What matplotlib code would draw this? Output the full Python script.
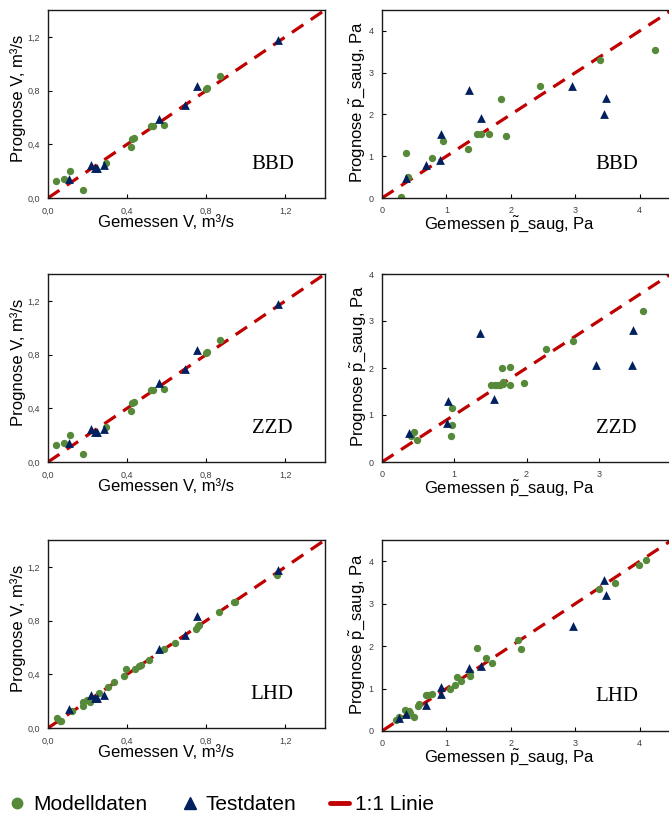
import matplotlib
matplotlib.use("Agg")
import matplotlib.pyplot as plt
from matplotlib.lines import Line2D
from matplotlib.ticker import FuncFormatter

plt.rcParams['font.family'] = ['Liberation Sans', 'DejaVu Sans']
plt.rcParams['mathtext.fontset'] = 'custom'
plt.rcParams['mathtext.rm'] = 'Liberation Sans'
plt.rcParams['mathtext.it'] = 'Liberation Sans:italic'

# ---------------- DATA ----------------
# Volumenstrom V (BBD und ZZD sind identisch)
v_model_x = [0.042, 0.079, 0.113, 0.176, 0.294, 0.420, 0.425, 0.437, 0.521, 0.533, 0.588, 0.798, 0.803, 0.869]
v_model_y = [0.129, 0.144, 0.199, 0.057, 0.261, 0.383, 0.440, 0.445, 0.539, 0.539, 0.547, 0.812, 0.822, 0.909]
v_test_x = [0.104, 0.218, 0.240, 0.250, 0.281, 0.563, 0.694, 0.751, 1.160]
v_test_y = [0.144, 0.248, 0.224, 0.226, 0.243, 0.589, 0.693, 0.832, 1.175]

v_lhd_x = [0.045, 0.059, 0.067, 0.123, 0.176, 0.176, 0.197, 0.210, 0.257, 0.303, 0.336, 0.382, 0.392,
           0.440, 0.462, 0.470, 0.509, 0.588, 0.644, 0.748, 0.756, 0.765, 0.862, 0.941, 0.946, 1.157]
v_lhd_y = [0.075, 0.055, 0.052, 0.127, 0.194, 0.164, 0.211, 0.194, 0.263, 0.306, 0.343, 0.385, 0.440,
           0.440, 0.465, 0.472, 0.504, 0.589, 0.634, 0.738, 0.758, 0.770, 0.862, 0.942, 0.937, 1.143]

# Saugdruck p_saug
p_bbd_model_x = [0.29, 0.38, 0.40, 0.77, 0.94, 1.34, 1.48, 1.53, 1.66, 1.84, 1.92, 2.45, 3.39, 4.23]
p_bbd_model_y = [0.02, 1.07, 0.50, 0.95, 1.36, 1.17, 1.54, 1.54, 1.54, 2.36, 1.49, 2.69, 3.30, 3.54]
p_bbd_test_x = [0.38, 0.68, 0.90, 0.92, 1.35, 1.53, 2.95, 3.44, 3.47]
p_bbd_test_y = [0.47, 0.79, 0.90, 1.54, 2.58, 1.92, 2.69, 2.02, 2.40]

p_zzd_model_x = [0.44, 0.40, 0.48, 0.97, 0.97, 0.96, 1.51, 1.56, 1.61, 1.64, 1.67, 1.68, 1.66, 1.77,
                 1.77, 1.96, 2.27, 2.64, 3.61]
p_zzd_model_y = [0.63, 0.545, 0.47, 1.15, 0.78, 0.545, 1.63, 1.63, 1.63, 1.63, 1.65, 1.71, 2.00, 2.02,
                 1.63, 1.68, 2.41, 2.58, 3.22]
p_zzd_test_x = [0.38, 0.90, 0.92, 1.36, 1.55, 2.96, 3.46, 3.48]
p_zzd_test_y = [0.62, 0.83, 1.30, 2.74, 1.35, 2.07, 2.07, 2.80]

p_lhd_model_x = [0.22, 0.27, 0.36, 0.42, 0.44, 0.49, 0.56, 0.58, 0.68, 0.72, 0.77, 1.06, 1.14, 1.17,
                 1.22, 1.36, 1.37, 1.48, 1.62, 1.71, 2.11, 2.16, 3.37, 3.62, 3.99, 4.10]
p_lhd_model_y = [0.27, 0.34, 0.49, 0.47, 0.43, 0.34, 0.59, 0.63, 0.85, 0.85, 0.88, 0.99, 1.08, 1.27,
                 1.18, 1.29, 1.39, 1.96, 1.71, 1.61, 2.14, 1.93, 3.35, 3.48, 3.92, 4.04]
p_lhd_test_x = [0.27, 0.37, 0.68, 0.91, 0.92, 1.35, 1.54, 2.96, 3.45, 3.48]
p_lhd_test_y = [0.30, 0.40, 0.61, 0.88, 1.04, 1.49, 1.52, 2.47, 3.55, 3.20]

labels = ["BBD", "ZZD", "LHD"]

# ---------------- STYLE ----------------
GREEN = "#568a3a"
NAVY = "#002060"
RED = "#c00000"
W, H = 669, 818
P_TXT = r"$\tilde{\mathrm{p}}$_saug, Pa"

fig = plt.figure(figsize=(W / 100, H / 100), dpi=100)


def add_ax(left, top, width, height):
    return fig.add_axes([left / W, 1 - (top + height) / H, width / W, height / H])


def style_panel(ax, lim, ticks, name, v_panel):
    ax.plot([0, lim[0]], [0, lim[1]], color=RED, lw=2.3, linestyle=(0, (4.3, 2.8)), zorder=1)
    ax.set_xlim(0, lim[0])
    ax.set_ylim(0, lim[1])
    ax.set_xticks(ticks[0])
    ax.set_yticks(ticks[1])
    if v_panel:
        fmt = FuncFormatter(lambda v, p: f"{v:.1f}".replace(".", ","))
        ax.xaxis.set_major_formatter(fmt)
        ax.yaxis.set_major_formatter(fmt)
        ax.set_xlabel("Gemessen V, m³/s", fontsize=12)
        ax.set_ylabel("Prognose V, m³/s", fontsize=12)
        ax.xaxis.set_label_coords(0.426, -0.09)
        ax.yaxis.set_label_coords(-0.08, 0.53)
    else:
        ax.set_xlabel("Gemessen " + P_TXT, fontsize=12)
        ax.set_ylabel("Prognose " + P_TXT, fontsize=12)
        ax.xaxis.set_label_coords(0.44, -0.086)
        ax.yaxis.set_label_coords(-0.05, 0.51)
    ax.tick_params(direction="in", length=3, width=0.8, labelsize=6.5,
                   labelcolor="#404040", pad=6)
    for s in ax.spines.values():
        s.set_linewidth(1.0)
        s.set_color("#1a1a1a")
    ax.text(0.81, 0.18, name, transform=ax.transAxes, ha="center", va="center",
            fontsize=15, family=["Liberation Serif", "DejaVu Serif"])


v_ticks = ([0, 0.4, 0.8, 1.2], [0, 0.4, 0.8, 1.2])

rows = [
    (10, 188, (4.5, 4.5), 290, ([0, 1, 2, 3, 4], [0, 1, 2, 3, 4]), v_model_x, v_model_y,
     p_bbd_model_x, p_bbd_model_y, p_bbd_test_x, p_bbd_test_y),
    (274, 188, (4.0, 4.0), 289, ([0, 1, 2, 3], [0, 1, 2, 3, 4]), v_model_x, v_model_y,
     p_zzd_model_x, p_zzd_model_y, p_zzd_test_x, p_zzd_test_y),
    (540, 191, (4.5, 4.5), 290, ([0, 1, 2, 3, 4], [0, 1, 2, 3, 4]), v_lhd_x, v_lhd_y,
     p_lhd_model_x, p_lhd_model_y, p_lhd_test_x, p_lhd_test_y),
]

for i, (top, h, plim, pw, pticks, vmx, vmy, pmx, pmy, ptx, pty) in enumerate(rows):
    # links: Volumenstrom
    ax = add_ax(48, top, 277, 188)
    ax.scatter(vmx, vmy, s=28, color=GREEN, linewidths=0, zorder=2)
    ax.scatter(v_test_x, v_test_y, s=40, marker="^", color=NAVY, linewidths=0, zorder=3)
    style_panel(ax, (1.4, 1.4), v_ticks, labels[i], True)

    # rechts: Saugdruck
    ax = add_ax(382, top, pw, h)
    ax.scatter(pmx, pmy, s=28, color=GREEN, linewidths=0, zorder=2)
    ax.scatter(ptx, pty, s=40, marker="^", color=NAVY, linewidths=0, zorder=3)
    style_panel(ax, plim, pticks, labels[i], False)

# ---------------- LEGEND ----------------
handles = [
    Line2D([], [], marker="o", ls="none", color=GREEN, markersize=7.5),
    Line2D([], [], marker="^", ls="none", color=NAVY, markersize=8.5),
    Line2D([], [], color=RED, lw=3.5, solid_capstyle="round"),
]
fig.legend(handles, ["Modelldaten", "Testdaten", "1:1 Linie"], loc="center left",
           bbox_to_anchor=(7.5 / W, 1 - 805 / H), ncol=3, frameon=False, fontsize=15,
           handlelength=0.91, handletextpad=0.31, columnspacing=1.6,
           borderpad=0, borderaxespad=0)

fig.savefig("out.png", dpi=100)
